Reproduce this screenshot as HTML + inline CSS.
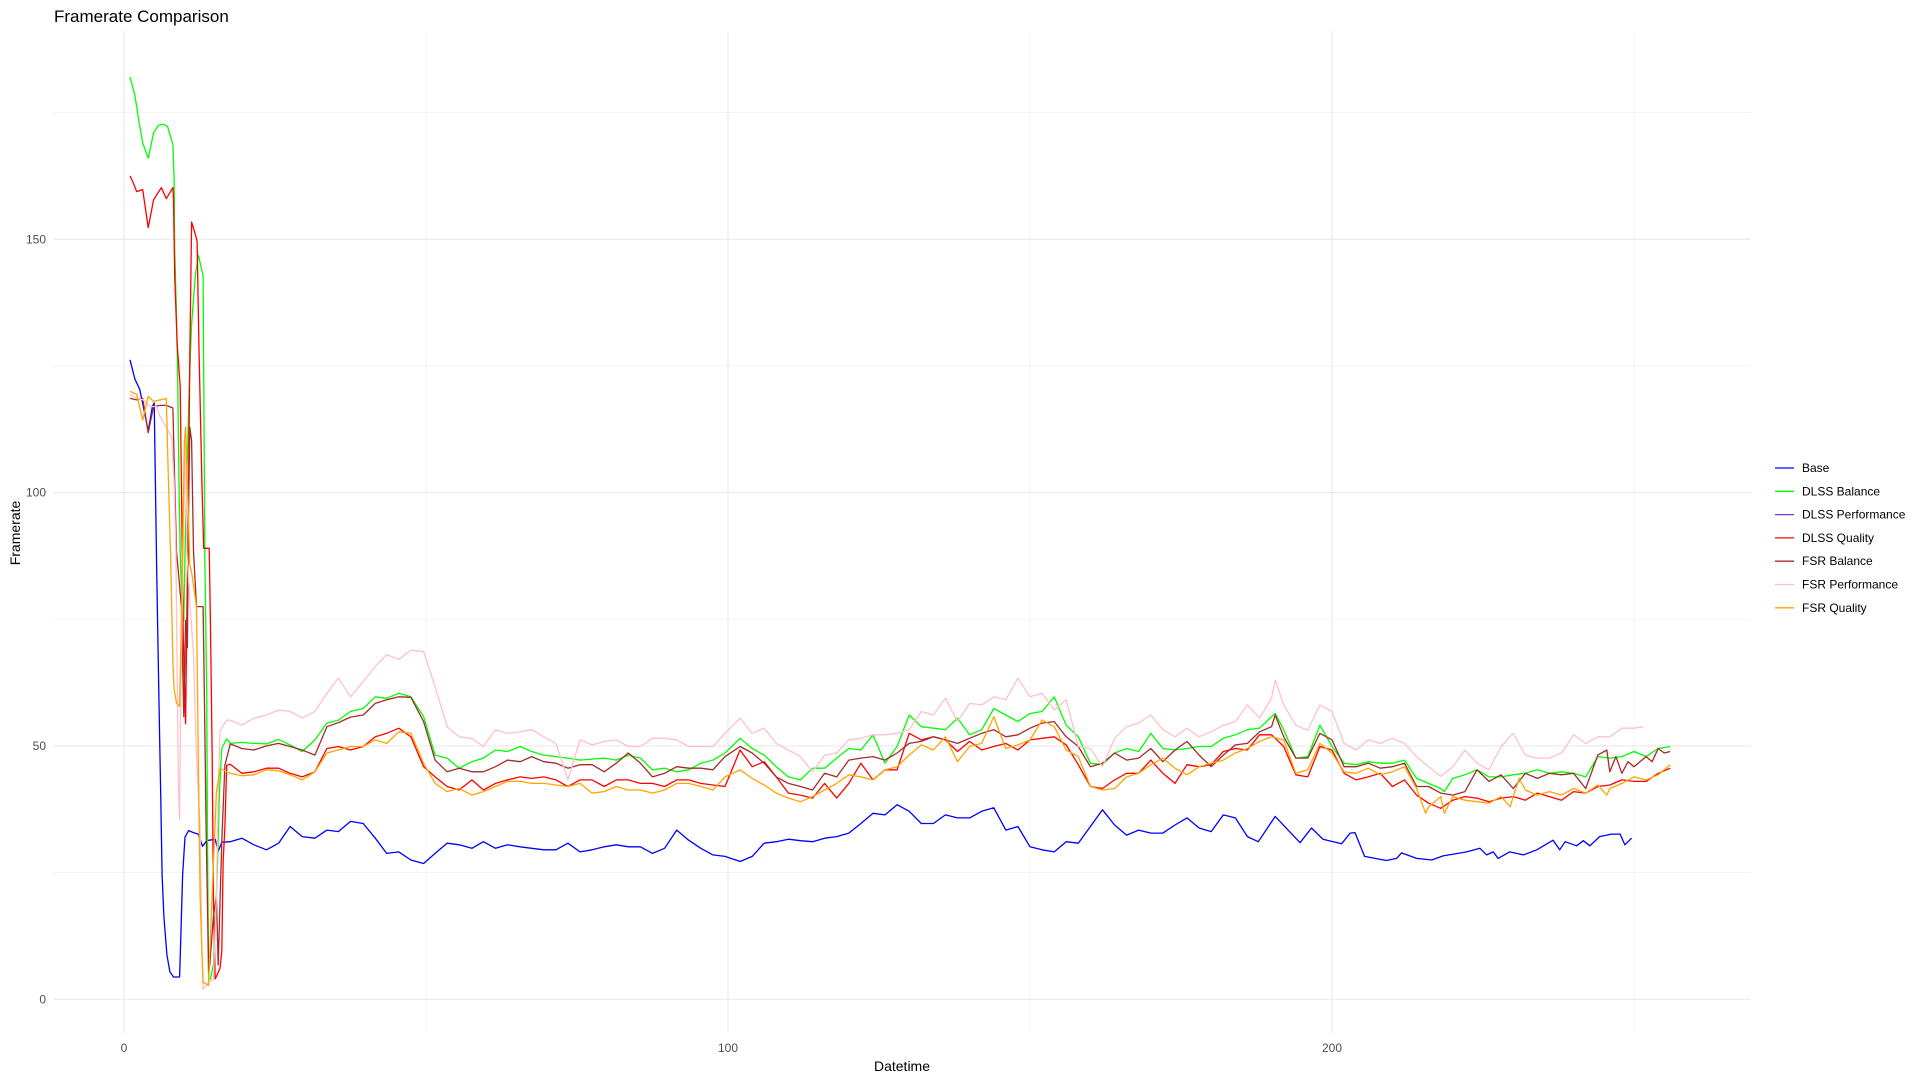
<!DOCTYPE html>
<html><head><meta charset="utf-8"><style>
html,body{margin:0;padding:0;background:#fff;}
body{width:1920px;height:1080px;overflow:hidden;font-family:"Liberation Sans",sans-serif;}
svg text{font-family:"Liberation Sans",sans-serif;}
</style></head><body>
<svg id="chart" width="1920" height="1080" xmlns="http://www.w3.org/2000/svg">
<text x="54" y="22" font-size="17" fill="#000">Framerate Comparison</text>
<g id="grid"></g>
<g id="yticks"></g>
<g id="xticks"></g>
<g id="series"></g>
<text x="902" y="1071" font-size="14" text-anchor="middle" fill="#000">Datetime</text>
<text transform="translate(20,533) rotate(-90)" font-size="14" text-anchor="middle" fill="#000">Framerate</text>
<g id="legend"></g>
</svg>
<script>
const yTicks=[0,50,100,150];
const yMinor=[25,75,125,175];
const xTicks=[0,100,200];
const xMinor=[50,150,250];
const seriesNames=["Base","DLSS Balance","DLSS Performance","DLSS Quality","FSR Balance","FSR Performance","FSR Quality"];
const seriesColors=["#0000ff","#00ff00","#8a2be2","#ff0000","#a52a2a","#ffc0cb","#ffa500"];
const tMid=[17.6,19.5,21.5,23.6,25.6,27.5,29.5,31.6,33.6,35.5,37.5,39.6,41.6,43.5,45.5,47.5,49.6,51.5,53.5,55.5,57.6,59.5,61.5,63.5,65.6,67.5,69.5,71.5,73.5,75.5,77.5,79.5,81.5,83.5,85.5,87.5,89.5,91.5,93.5,95.5,97.5,99.5];
const tLate=[102,104,106,108,110,112,114,116,118,120,122,124,126,128,130,132,134,136,138,140,142,144,146,148,150,152,154,156,158,160,162,164,166,168,170,172,174,176,178,180,182,184,186];

const baseHeadX=[1,1.8,2.6,3.2,4,4.7,5,5.2,5.4,5.6,5.8,6.1,6.3,6.6,7.1,7.6,8.2,9.2,9.4,9.7,10.1,10.7,11.5,12.3,13,13.7,15.1,15.6,16.2];
const baseHeadY=[126.2,122.4,120.4,117,112.2,117,117.7,102,85.7,72,58.5,39.4,24.5,16.3,8.8,5.4,4.4,4.4,12.2,24.5,32,33.3,32.9,32.6,30.2,31.3,31.6,29.2,31];
const baseMidY=[31.1,31.8,30.5,29.5,30.8,34.1,32.1,31.8,33.4,33.1,35.1,34.7,31.8,28.8,29.1,27.5,26.8,28.8,30.8,30.5,29.8,31.1,29.8,30.5,30.1,29.8,29.5,29.5,30.8,29.1,29.5,30.1,30.5,30.1,30.1,28.8,29.8,33.4,31.4,29.8,28.5,28.2];
const baseLateY=[27.2,28.2,30.8,31.1,31.6,31.3,31.1,31.8,32.1,32.8,34.7,36.7,36.4,38.4,37.1,34.7,34.7,36.4,35.8,35.8,37.1,37.8,33.4,34.1,30.1,29.5,29.1,31.1,30.8,34.1,37.4,34.4,32.4,33.4,32.8,32.8,34.4,35.8,33.8,33.1,36.4,35.8,32.1];
const baseTailX=[187.8,190.6,194.7,196.6,198.5,201.6,203,203.8,205.4,209,210.7,211.5,214,216.5,218.4,222.3,224.5,225.6,226.7,227.5,229.4,231.7,233.9,236.6,237.7,238.6,240.5,241.6,242.7,244.3,246.3,247.7,248.5,249.6];
const baseTailY=[31.1,36.1,30.9,33.8,31.6,30.7,32.8,32.9,28.2,27.4,27.8,28.9,27.8,27.5,28.3,29.1,29.8,28.5,29.1,27.8,29.1,28.5,29.5,31.4,29.5,31.1,30.3,31.3,30.3,32.1,32.6,32.6,30.5,31.8];

const dbHeadX=[1,1.8,2.5,3.1,4,4.9,5.7,6.5,7.2,8.1,8.3,8.4,8.7,8.9,9.1,9.3,9.5,9.9,10.1,10.4,10.8,11.2,11.8,12.3,13.1,13.4,13.7,13.8,14,14.3,14.8,15.2,15.5,15.8,16.2,17];
const dbHeadY=[182,178.4,173,169,166,171,172.5,172.7,172.3,168.7,161.9,148,134.7,121,102,88,81.6,74.8,88,102,121,133.3,142.8,146.9,142.8,85.7,61.2,34,4,4,6.8,17.7,27,40.8,49.6,51.4];
const dbMidY=[50.5,50.7,50.5,50.4,51.3,50.2,48.9,51.2,54.5,55.1,56.8,57.4,59.7,59.4,60.4,59.7,55.8,48.2,47.6,45.6,46.9,47.6,49.2,48.9,49.9,48.9,48.2,47.9,47.6,47.2,47.4,47.6,47.2,48.2,47.6,45.3,45.6,44.9,45.3,46.6,47.2,48.6];
const dbLateY=[51.5,49.5,48.2,45.9,43.9,43.3,45.6,45.6,47.6,49.5,49.2,52.2,46.6,49.9,56.1,53.8,53.5,53.2,55.5,52.2,53.2,57.4,56.1,54.8,56.4,56.8,59.7,54.1,51.8,46.6,46.3,48.6,49.5,48.9,52.5,49.5,49.2,49.5,49.9,49.9,51.5,52.2,53.2];
const dbTailX=[188,190,190.6,192,194,196,198,200,202,204,206,208,210,212,214,216,218,218.6,220,222,224,226,228,230,232,234,236,238,240,242,244,246,248,250,252,254,256];
const dbTailY=[53.5,55.8,56.4,53.2,47.6,47.9,54.1,49.9,46.6,46.3,46.9,46.6,46.6,47.2,43.6,42.6,41.6,41,43.6,44.3,45.3,43.9,43.9,44.3,44.6,45.3,44.6,44.9,44.6,43.9,47.9,47.6,47.9,48.9,47.9,49.5,49.9];

const dpX=[];
const dpY=[];

const dqHeadX=[1,1.5,2.1,3.1,4,4.9,6.2,7,8.1,8.2,8.4,8.8,9.3,9.5,9.8,10.2,10.4,10.7,10.9,11.2,11.8,12.1,12.4,12.9,13.2,14.1,14.3,14.6,14.8,15.1,15.9,16.2,16.4,16.7,17];
const dqHeadY=[162.5,161.2,159.4,159.8,152.3,157.8,160.2,158,160.2,157.8,142.8,129.2,121,102,72,54.4,74.8,102,126.5,153.4,151,149.6,129.2,102,89,89,74.8,47.6,20.4,4,6.1,9.5,27,34,46.2];
const dqMidY=[46.4,44.6,44.9,45.6,45.6,44.6,43.9,44.9,49.5,49.9,49.2,49.9,51.8,52.5,53.5,51.8,45.9,43.9,42,41.3,43.3,41.3,42.6,43.3,43.9,43.6,43.9,43.3,42,43.3,43.3,42,43.3,43.3,42.6,42.6,42,43.3,43.3,42.6,42.3,42];
const dqLateY=[49.2,45.9,46.9,43.9,40.7,40.3,39.7,42.6,39.7,42.6,46.6,43.3,45.3,45.3,52.5,51.2,51.8,51.2,48.9,50.9,49.2,49.9,50.5,49.2,51.2,51.5,51.8,50.2,46.3,42,41.6,43.3,44.6,44.6,47.2,44.6,42.6,46.3,45.9,46.3,48.9,49.5,49.2];
const dqTailX=[188,190,192,194,196,198,200,202,204,206,208,210,212,214,216,218,220,222,224,226,228,230,232,234,236,238,240,242,244,246,248,250,252,254,256];
const dqTailY=[52.2,52.2,49.9,44.3,43.9,49.9,49.2,44.6,43.3,43.9,44.6,42,43.3,40.3,38.7,37.7,39.3,40,39.7,39,39.7,40,39.3,40.7,40,39.3,41,40.7,42,42.3,43.3,43,43,44.6,45.6];

const fbHeadX=[1,2.1,3.1,4,4.9,6,7,8.1,8.4,8.7,9.2,9.5,9.9,10.2,10.5,10.7,10.9,11.2,11.5,12,13.1,13.3,13.6,14,14.2,14.8,15.3,15.6,16.2,16.7];
const fbHeadY=[118.6,118.3,118.6,111.8,117,117.2,117.2,116.7,102,88.4,81.6,77.5,55.8,74.8,69.4,96.6,112.9,110.2,88.4,77.5,77.5,61.2,34,5.4,6.8,16.3,20.4,6.8,31.3,46.2];
const fbMidY=[50.4,49.5,49.2,50,50.5,49.9,49.2,48.2,53.8,54.6,55.7,56.1,58.4,59.1,59.7,59.6,54.8,47.2,44.9,45.6,44.9,44.9,45.9,47.2,46.9,47.9,46.9,46.6,45.6,46.3,46.3,44.9,46.6,48.6,46.6,43.9,44.6,45.9,45.6,45.6,45.3,47.9];
const fbLateY=[49.9,48.6,46.6,43.9,42.6,42,41.3,44.6,43.9,47.2,47.6,47.9,47.2,48.6,50.5,50.9,51.8,51.2,50.5,51.5,52.5,53.2,51.8,52.2,53.5,54.5,54.8,51.8,49.9,45.9,46.6,48.6,47.2,47.6,49.5,46.9,49.2,50.9,48.2,45.9,48.2,50.2,50.5];
const fbTailX=[188,190,190.6,192,194,196,198,200,202,204,206,208,210,212,214,216,218,220,222,224,226,228,230,232,234,236,238,240,242,244,245.5,246,247,248,249,250,252,253,254,255,256];
const fbTailY=[52.8,53.8,56.1,51.8,47.6,47.6,52.5,51.2,45.9,45.9,46.6,45.6,45.9,46.6,42,42,40.7,40.3,41,45.3,43,44.3,41.6,44.6,43.6,44.6,44.3,44.6,41.6,48.2,49.2,44.9,47.9,44.6,46.9,45.9,47.9,46.9,49.5,48.6,48.9];

const fpHeadX=[1,2.1,3.2,4.3,5.4,6,7,7.9,8.3,8.6,9,9.2,9.4,9.8,10.2,10.4,10.9,11.5,12,12.6,12.9,13.1,14,14.8,15.3,15.6,15.9,17];
const fpHeadY=[119.4,118.6,118.3,117,117,114.9,112.9,110.9,102,88.4,42.2,35.4,61.2,88.4,112.9,88.4,78.9,68,47.6,34,9.5,2,3.4,4,20.4,40.8,53,55.1];
const fpMidY=[55.1,54.1,55.5,56.1,57.1,56.8,55.5,56.8,60.4,63.4,59.7,62.7,65.7,68,67.1,68.9,68.6,61.7,53.8,51.8,51.5,49.9,53.2,52.5,52.8,53.2,51.8,50.5,43.3,51.2,50.2,50.9,51.2,49.9,49.9,51.5,51.5,51.2,49.9,49.9,49.9,52.5];
const fpLateY=[55.5,52.5,53.5,50.5,49.2,47.9,44.9,48.2,48.6,51.2,51.5,52.2,52.2,52.5,53.2,56.8,56.1,59.4,54.8,58.4,58.1,59.7,59.1,63.4,59.7,60.4,57.1,59.1,49.9,49.5,45.9,51.5,53.8,54.5,56.1,53.2,51.8,53.5,51.8,52.8,54.1,54.8,58.1];
const fpTailX=[188,190,190.6,192,194,196,198,200,202,204,206,208,210,212,214,216,218,220,222,224,226,228,230,232,234,236,238,240,242,244,246,248,250,251.5];
const fpTailY=[55.5,59.4,63,58.1,54.1,53.1,58.1,56.8,50.5,49.2,51.2,50.5,51.5,50.5,47.9,45.9,44,45.9,49.2,46.6,45.3,49.9,52.5,48.2,47.6,47.6,48.6,52.2,50.5,51.8,51.8,53.5,53.5,53.8];

const fqHeadX=[1,2.1,3.1,4,4.9,7,7.3,7.7,8.1,8.3,8.7,9.2,9.5,10,10.2,10.5,10.9,11.2,12,12.3,12.6,12.9,13.1,14,14.2,14.8,15.3,15.9,17];
const fqHeadY=[120,119.4,114.3,119,118,118.6,104.7,88.4,66.6,61.2,58.5,57.8,74.8,110.2,112.9,102,85.7,84.3,77.5,47.6,20.4,9.5,3.4,2.7,9.5,27,40.8,45.6,44.9];
const fqMidY=[44.6,44.1,44.3,45.3,45.1,44.3,43.3,44.9,48.6,49.2,49.9,49.9,51.2,50.5,52.8,52.5,46.6,42.6,41,41.6,40.3,41,42,43,43,42.6,42.6,42.3,42,42.6,40.7,41,42,41.3,41.3,40.7,41.3,42.6,42.6,42,41.3,43.9];
const fqLateY=[45.3,43.6,42.3,40.7,39.7,39,40,41.3,42.6,44.3,43.9,43.3,45.3,45.9,48.2,50.2,49.2,51.8,46.9,49.9,50.5,55.8,49.5,50.2,51.2,55.1,53.8,49.2,47.9,42,41.3,41.6,43.9,44.6,46.3,47.6,45.6,44.3,45.9,46.6,47.2,48.6,49.5];
const fqTailX=[188,190,192,194,196,198,200,202,204,206,208,210,212,214,215.5,216,218,218.6,220,222,224,226,228,229.5,230,231,232,234,236,238,240,242,244,245.5,246,248,250,252,254,256];
const fqTailY=[50.9,51.8,51.2,44.6,45.3,50.5,48.6,44.9,44.6,45.6,44.3,44.9,45.9,41.6,36.7,38,40,36.7,40,39.3,39,38.7,40,38,40,43.6,41.3,40.3,41,40.3,41.6,40.7,42.3,40.3,41.6,42.6,43.9,43.3,44.3,46.3];

const NS="http://www.w3.org/2000/svg";
const plot={left:53,right:1751,top:31,bottom:1033};
function sx(x){return 124+x*6.04;}
function sy(v){return 999.3-v*5.067;}
function mk(tag,attrs,parent){const e=document.createElementNS(NS,tag);for(const k in attrs)e.setAttribute(k,attrs[k]);parent.appendChild(e);return e;}

const grid=document.getElementById('grid');
yMinor.forEach(v=>{const l=mk('line',{x1:plot.left,x2:plot.right,y1:sy(v),y2:sy(v),stroke:'#f2f2f2','stroke-width':0.8},grid);

});
xMinor.forEach(v=>{const l=mk('line',{x1:sx(v),x2:sx(v),y1:plot.top,y2:plot.bottom,stroke:'#f2f2f2','stroke-width':0.8},grid);

});
yTicks.forEach(v=>{const l=mk('line',{x1:plot.left,x2:plot.right,y1:sy(v),y2:sy(v),stroke:'#ebebeb','stroke-width':1.2},grid);

});
xTicks.forEach(v=>{const l=mk('line',{x1:sx(v),x2:sx(v),y1:plot.top,y2:plot.bottom,stroke:'#ebebeb','stroke-width':1.2},grid);

});

const yt=document.getElementById('yticks');
yTicks.forEach(v=>{const t=mk('text',{x:46,y:sy(v)+4,'font-size':12,'text-anchor':'end',fill:'#4d4d4d'},yt);t.textContent=String(v);

});
const xt=document.getElementById('xticks');
xTicks.forEach(v=>{const t=mk('text',{x:sx(v),y:1052,'font-size':12,'text-anchor':'middle',fill:'#4d4d4d'},xt);t.textContent=String(v);

});

const allX=[
 baseHeadX.concat(tMid,tLate,baseTailX),
 dbHeadX.concat(tMid,tLate,dbTailX),
 dpX,
 dqHeadX.concat(tMid,tLate,dqTailX),
 fbHeadX.concat(tMid,tLate,fbTailX),
 fpHeadX.concat(tMid,tLate,fpTailX),
 fqHeadX.concat(tMid,tLate,fqTailX)];
const allY=[
 baseHeadY.concat(baseMidY,baseLateY,baseTailY),
 dbHeadY.concat(dbMidY,dbLateY,dbTailY),
 dpY,
 dqHeadY.concat(dqMidY,dqLateY,dqTailY),
 fbHeadY.concat(fbMidY,fbLateY,fbTailY),
 fpHeadY.concat(fpMidY,fpLateY,fpTailY),
 fqHeadY.concat(fqMidY,fqLateY,fqTailY)];
const sg=document.getElementById('series');
seriesNames.forEach((n,i)=>{
 const xs=allX[i],ys=allY[i];
 if(!xs.length)return;
 const pts=xs.map((x,j)=>sx(x).toFixed(1)+','+sy(ys[j]).toFixed(1)).join(' ');
 const p=mk('polyline',{points:pts,fill:'none',stroke:seriesColors[i],'stroke-width':1.3,'stroke-linejoin':'round'},sg);
 
 
});

const lg=document.getElementById('legend');
seriesNames.forEach((n,i)=>{
 const y=468+i*23.3;
 const g=mk('g',{},lg);
 
 
 mk('line',{x1:1775,x2:1794,y1:y,y2:y,stroke:seriesColors[i],'stroke-width':1.3},g);
 const t=mk('text',{x:1802,y:y+4,'font-size':12,fill:'#000'},g);t.textContent=n;
});
</script>
</body></html>
